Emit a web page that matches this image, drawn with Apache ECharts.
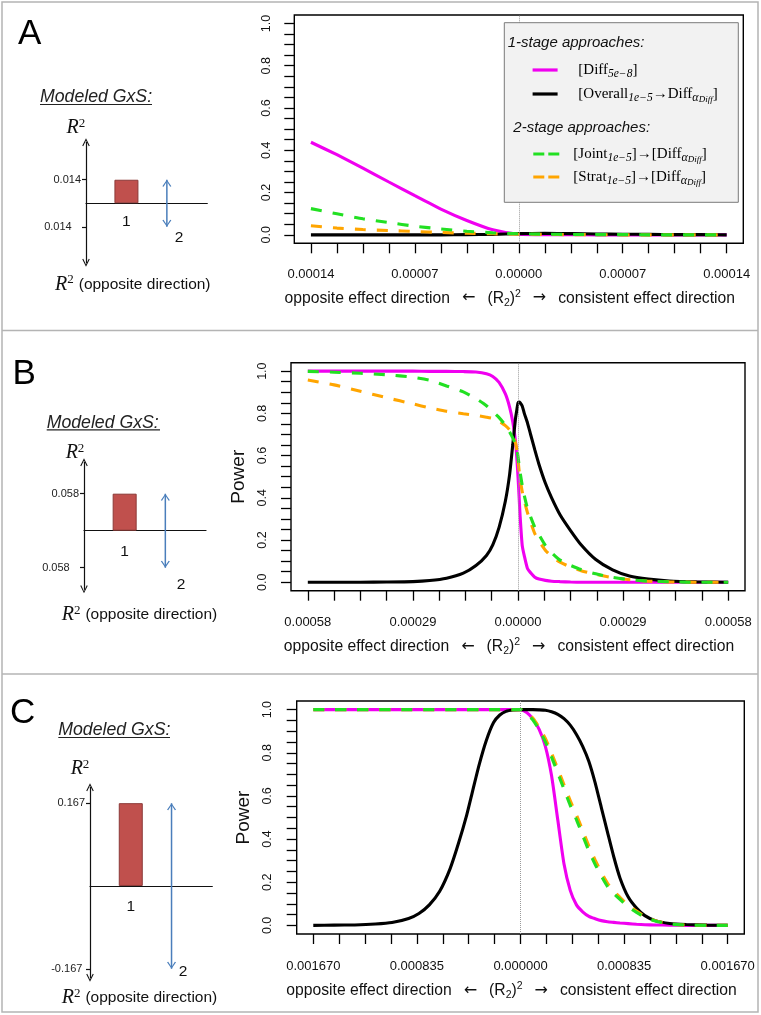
<!DOCTYPE html>
<html><head><meta charset="utf-8">
<script src="https://cdn.jsdelivr.net/npm/echarts@6/dist/echarts.min.js"></script>
<style>html,body{margin:0;padding:0;background:#fff}#c{width:761px;height:1015px}</style>
</head><body><div id="c"></div>
<script>
// ---------------- data ----------------
const xMax = [0.00014, 0.00058, 0.00167];          // max |(R2)^2| shown on each panel
const xDecimals = [5, 5, 6];
const xTickFrac = [-1,-0.875,-0.75,-0.625,-0.5,-0.375,-0.25,-0.125,0,0.125,0.25,0.375,0.5,0.625,0.75,0.875,1];
const xLabelFrac = [-1,-0.5,0,0.5,1];
const yTickVals = [0,0.05,0.1,0.15,0.2,0.25,0.3,0.35,0.4,0.45,0.5,0.55,0.6,0.65,0.7,0.75,0.8,0.85,0.9,0.95,1];
const yLabelVals = [0,0.2,0.4,0.6,0.8,1];

// Panel A (x as fraction of xMax[0])
const fracA   = [-1,-0.875,-0.75,-0.625,-0.5,-0.375,-0.25,-0.125,0,0.125,0.25,0.375,0.5,0.625,0.75,0.875,1];
const aDiff    = [0.438,0.379,0.316,0.25,0.185,0.122,0.068,0.024,0.003,0.001,0.001,0,0,0,0,0,0];
const aOverall = [0,0,0,0,0,0,0.001,0.002,0.006,0.007,0.006,0.004,0.003,0.002,0.001,0.001,0];
const aJoint   = [0.124,0.0995,0.076,0.058,0.041,0.028,0.017,0.0095,0.005,0.003,0.002,0.001,0.001,0,0,0,0];
const aStrat   = [0.043,0.032,0.025,0.0205,0.016,0.011,0.008,0.005,0.003,0.002,0.001,0.001,0,0,0,0,0];

// Panel B
const fracB   = [-1,-0.875,-0.75,-0.625,-0.5,-0.42,-0.34,-0.26,-0.2,-0.15,-0.12,-0.09,-0.06,-0.04,-0.025,-0.012,-0.005,0,0.005,0.01,0.02,0.03,0.045,0.06,0.08,0.1,0.13,0.16,0.2,0.25,0.3,0.37,0.45,0.53,0.62,0.72,0.85,1];
const bDiff    = [1,1,1,1,1,0.999,0.999,0.998,0.996,0.988,0.975,0.947,0.892,0.83,0.76,0.67,0.58,0.5,0.41,0.315,0.175,0.125,0.065,0.045,0.024,0.015,0.009,0.005,0.003,0.001,0,0,0,0,0,0,0,0];
const bOverall = [0,0,0,0.001,0.003,0.008,0.019,0.043,0.079,0.127,0.177,0.26,0.385,0.51,0.65,0.775,0.82,0.85,0.854,0.851,0.835,0.80,0.755,0.70,0.627,0.558,0.47,0.40,0.32,0.245,0.178,0.108,0.059,0.03,0.015,0.006,0.002,0];
const bJoint   = [0.999,0.995,0.99,0.983,0.971,0.957,0.93,0.902,0.87,0.836,0.808,0.78,0.744,0.712,0.684,0.655,0.625,0.596,0.556,0.52,0.46,0.41,0.35,0.31,0.26,0.225,0.175,0.14,0.105,0.08,0.06,0.04,0.023,0.012,0.005,0.002,0,0];
const bStrat   = [0.958,0.935,0.905,0.874,0.845,0.826,0.81,0.798,0.79,0.782,0.776,0.763,0.742,0.722,0.70,0.66,0.625,0.58,0.532,0.49,0.43,0.385,0.33,0.285,0.23,0.196,0.152,0.122,0.095,0.072,0.055,0.037,0.022,0.012,0.005,0.002,0,0];

// Panel C
const fracC   = [-1,-0.9,-0.8,-0.7,-0.62,-0.54,-0.49,-0.44,-0.39,-0.34,-0.3,-0.26,-0.23,-0.2,-0.165,-0.13,-0.1,-0.07,-0.035,0,0.03,0.06,0.09,0.12,0.15,0.18,0.21,0.24,0.27,0.3,0.33,0.36,0.39,0.42,0.45,0.48,0.52,0.56,0.6,0.65,0.72,0.8,0.9,1];
const cDiff    = [1,1,1,1,1,1,1,1,1,1,1,1,1,1,1,1,1,1,1,1,0.987,0.957,0.908,0.83,0.693,0.488,0.284,0.162,0.095,0.063,0.042,0.031,0.022,0.017,0.014,0.011,0.008,0.005,0.003,0.002,0.001,0,0,0];
const cOverall = [0,0.001,0.002,0.006,0.013,0.032,0.055,0.095,0.158,0.262,0.378,0.51,0.627,0.743,0.857,0.94,0.975,0.992,0.998,1,1,1,0.999,0.997,0.99,0.978,0.958,0.928,0.885,0.83,0.76,0.662,0.546,0.431,0.318,0.22,0.131,0.08,0.045,0.022,0.009,0.004,0.001,0];
const cJoint   = [1,1,1,1,1,1,1,1,1,1,1,1,1,1,1,1,1,1,1,1,0.98,0.952,0.906,0.851,0.78,0.706,0.631,0.556,0.49,0.417,0.345,0.283,0.229,0.18,0.147,0.121,0.086,0.06,0.037,0.02,0.006,0.001,0,0];
const cStrat   = [1,1,1,1,1,1,1,1,1,1,1,1,1,1,1,1,1,1,1,1,0.985,0.96,0.918,0.866,0.798,0.726,0.652,0.578,0.512,0.44,0.367,0.303,0.245,0.195,0.158,0.13,0.094,0.066,0.041,0.022,0.007,0.001,0,0];

// Schematic (Modeled GxS) values
const schemCats = ['', '1', '2', ''];
const schemR2 = [0.014, 0.058, 0.167];
const schemSignedLow = [false, false, true];

// legend texts
const legendText = {
  Diff:    '{f|[Diff}{s|5e−8}{m|]}',
  Overall: '{f|[Overall}{s|1e−5}{m|→Diff}{sa|α}{ss|Diff}{m|]}',
  Joint:   '{f|[Joint}{s|1e−5}{m|]→[Diff}{sa|α}{ss|Diff}{m|]}',
  Strat:   '{f|[Strat}{s|1e−5}{m|]→[Diff}{sa|α}{ss|Diff}{m|]}'
};

// ---------------- layout / styles ----------------
const colors = {Diff:'#f000f0', Overall:'#000000', Joint:'#22e022', Strat:'#ffa500'};
const dashed = {Diff:false, Overall:false, Joint:true, Strat:true};
const drawOrder = ['Diff','Overall','Strat','Joint'];
const panels = [
  {frac: fracA, Diff: aDiff, Overall: aOverall, Joint: aJoint, Strat: aStrat},
  {frac: fracB, Diff: bDiff, Overall: bOverall, Joint: bJoint, Strat: bStrat},
  {frac: fracC, Diff: cDiff, Overall: cOverall, Joint: cJoint, Strat: cStrat}
];
const mainGrids = [
  {left:294.3, top:15, width:449, height:228.3},
  {left:291, top:362.7, width:454, height:228},
  {left:296.7, top:701, width:447.6, height:233}
];
const xLabelMargin = [25, 25.5, 26];
const xNameGap = [45, 46, 46.8];
const yLabelMargin = [21.5, 21.5, 22.3];
const yName = ['', 'Power', 'Power'];
const yNameGap = [40, 33.5, 40];

const schemGrids = [
  {left:86, top:142.3, width:121.3, height:120.4, min:-0.0354, max:0.0363, d1:10.4, off2:[12.3,14], padLo:9.3},
  {left:84, top:462.3, width:122, height:127, min:-0.0919, max:0.1072, d1:13, off2:[15.7,20.8], padLo:9.3},
  {left:90, top:787.3, width:122.3, height:190.4, min:-0.185, max:0.199, d1:12.7, off2:[11.6,6.4], padLo:2.6}
];
const chev = 'path://M0,10L5,0L10,10L8.7,10.7L5,2.8L1.3,10.7Z';

const F = 'Liberation Sans';
const nameRich = {
  t:{fontSize:15.7, fontFamily:F, color:'#111', lineHeight:20},
  a:{fontSize:16, fontFamily:'DejaVu Sans', color:'#111', lineHeight:20, padding:[0,12,0,12]},
  sub:{fontSize:10.5, fontFamily:F, color:'#111', lineHeight:9, verticalAlign:'bottom'},
  sup:{fontSize:10.5, fontFamily:F, color:'#111', lineHeight:9, verticalAlign:'top'}
};
const axisNameText = '{t|opposite effect direction}{a|←}{t|(R}{sub|2}{t|)}{sup|2}{a|→}{t|consistent effect direction}';

function legRich(padL) {
  return {
    f:{fontFamily:'Liberation Serif', fontSize:15, lineHeight:20, padding:[0,0,0,padL], color:'#000'},
    m:{fontFamily:'Liberation Serif', fontSize:15, lineHeight:20, color:'#000'},
    s:{fontFamily:'Liberation Serif', fontStyle:'italic', fontSize:11.5, lineHeight:11, verticalAlign:'bottom', color:'#000'},
    sa:{fontFamily:'Liberation Serif', fontStyle:'italic', fontSize:12, lineHeight:11, verticalAlign:'bottom', color:'#000'},
    ss:{fontFamily:'Liberation Serif', fontStyle:'italic', fontSize:9, lineHeight:6, verticalAlign:'bottom', color:'#000'}
  };
}

const grid = [], xAxis = [], yAxis = [], series = [];

mainGrids.forEach((g, i) => {
  const X = xMax[i];
  grid.push(Object.assign({show:true, borderColor:'#000', borderWidth:1.4, backgroundColor:'transparent', containLabel:false, outerBoundsMode:'none'}, g));
  xAxis.push({
    type:'value', gridIndex:i, min:-1.08*X, max:1.08*X,
    axisLine:{show:false, onZero:false}, splitLine:{show:false},
    axisTick:{show:true, length:10, lineStyle:{color:'#000', width:1.3}, customValues: xTickFrac.map(f => f*X)},
    axisLabel:{customValues: xLabelFrac.map(f => f*X), formatter: v => Math.abs(v).toFixed(xDecimals[i]),
               margin:xLabelMargin[i], fontSize:13, fontFamily:F, color:'#111'},
    name: axisNameText, nameLocation:'middle', nameGap:xNameGap[i],
    nameTextStyle:{rich:nameRich, padding:[0,18,0,0]}
  });
  yAxis.push({
    type:'value', gridIndex:i, min:-0.04, max:1.04,
    axisLine:{show:false, onZero:false}, splitLine:{show:false},
    axisTick:{show:true, length:10, lineStyle:{color:'#000', width:1.3}, customValues: yTickVals},
    axisLabel:{customValues: yLabelVals, rotate:90, formatter: v => v.toFixed(1), margin:yLabelMargin[i],
               fontSize:12.5, fontFamily:F, color:'#111'},
    name: yName[i], nameLocation:'middle', nameGap:yNameGap[i],
    nameTextStyle:{fontSize:19, fontFamily:F, color:'#111'}
  });
  const p = panels[i];
  drawOrder.forEach((nm, k) => {
    const s = {
      type:'line', name:nm, xAxisIndex:i, yAxisIndex:i,
      data: p.frac.map((f, j) => [f*X, p[nm][j]]),
      symbol:'none', smooth:0.2, z:2,
      lineStyle:{color:colors[nm], width:3.1, type: dashed[nm] ? [11,11] : 'solid'},
      itemStyle:{color:colors[nm]}
    };
    if (k === 0) {
      s.markLine = {silent:true, symbol:['none','none'], label:{show:false}, animation:false,
        lineStyle:{type:'dotted', color:'#9a9a9a', width:1}, data:[{xAxis:0}]};
    }
    series.push(s);
  });
});

schemGrids.forEach((g, k) => {
  const gi = 3 + k, v = schemR2[k];
  grid.push({left:g.left, top:g.top, width:g.width, height:g.height, containLabel:false, outerBoundsMode:'none'});
  xAxis.push({
    type:'category', gridIndex:gi, data:schemCats, boundaryGap:false,
    axisLine:{onZero:true, lineStyle:{color:'#111', width:1.2}},
    axisTick:{show:false}, splitLine:{show:false}, axisLabel:{show:false}
  });
  yAxis.push({
    type:'value', gridIndex:gi, min:g.min, max:g.max, splitLine:{show:false},
    axisLine:{show:true, onZero:false, symbol:[chev, chev], symbolSize:[9,8], lineStyle:{color:'#111', width:1.2}},
    axisTick:{show:true, length:4, customValues:[-v, v], lineStyle:{color:'#111', width:1.2}},
    axisLabel:{customValues:[-v, v], margin:5,
      formatter: val => {
        const t = (val < 0 && schemSignedLow[k]) ? val.toFixed(3) : Math.abs(val).toFixed(3);
        return val > 0 ? '{hi|' + t + '}' : '{lo|' + t + '}';
      },
      rich:{hi:{fontSize:11, fontFamily:F, color:'#222'},
            lo:{fontSize:11, fontFamily:F, color:'#222', padding:[0,g.padLo,0,0]}}}
  });
  series.push({
    type:'bar', xAxisIndex:gi, yAxisIndex:gi, barWidth:24,
    data: schemCats.map(c => c === '1' ? v : '-'),
    itemStyle:{color:'#c0504d', borderColor:'#8c3a38', borderWidth:1},
    label:{show:true, position:'bottom', distance:g.d1, formatter:'1', fontSize:15.5, fontFamily:F, color:'#111'}
  });
  series.push({
    type:'line', xAxisIndex:gi, yAxisIndex:gi, symbol:chev, symbolSize:[9,7],
    lineStyle:{color:'#4a7ebb', width:1.5}, itemStyle:{color:'#4a7ebb'},
    data:[{value:[schemCats[2], v], symbolRotate:0, symbolOffset:[0,3.5]},
          {value:[schemCats[2], -v], symbolRotate:180, symbolOffset:[0,-3.5],
           label:{show:true, position:'inside', offset:g.off2, formatter:schemCats[2], fontSize:15.5, fontFamily:F, color:'#111'}}]
  });
});

function txt(x, y, text, st) {
  return {type:'text', x:x, y:y, silent:true, z:30,
    style:Object.assign({text:text, fill:'#000', fontFamily:F, textAlign:'left', align:'left',
      textVerticalAlign:'middle', verticalAlign:'middle'}, st)};
}
const r2Rich = {
  r:{fontFamily:'Liberation Serif', fontStyle:'italic', fontSize:20, lineHeight:22, fill:'#111', color:'#111'},
  p:{fontFamily:'Liberation Serif', fontSize:13, lineHeight:12, verticalAlign:'top', fill:'#111', color:'#111'},
  t:{fontFamily:F, fontSize:15.5, lineHeight:22, padding:[0,0,0,5], fill:'#111', color:'#111'}
};
const graphic = [
  {type:'rect', silent:true, z:0, shape:{x:2, y:2, width:756, height:1010}, style:{fill:'none', stroke:'#b4b4b4', lineWidth:1.5}},
  {type:'line', silent:true, z:0, shape:{x1:2, y1:330.5, x2:758, y2:330.5}, style:{stroke:'#b4b4b4', lineWidth:1.5}},
  {type:'line', silent:true, z:0, shape:{x1:2, y1:674, x2:758, y2:674}, style:{stroke:'#b4b4b4', lineWidth:1.5}},
  txt(18, 34.2, 'A', {fontSize:35}),
  txt(12.5, 374.2, 'B', {fontSize:35}),
  txt(10, 713.3, 'C', {fontSize:35}),
  txt(40, 96.7, 'Modeled GxS:', {fontSize:17.7, fontStyle:'italic', fill:'#222'}),
  txt(46.7, 423.3, 'Modeled GxS:', {fontSize:17.7, fontStyle:'italic', fill:'#222'}),
  txt(58.3, 730, 'Modeled GxS:', {fontSize:17.7, fontStyle:'italic', fill:'#222'}),
  {type:'line', silent:true, shape:{x1:40, y1:104.5, x2:152, y2:104.5}, style:{stroke:'#222', lineWidth:1.2}},
  {type:'line', silent:true, shape:{x1:46.7, y1:429.8, x2:160, y2:429.8}, style:{stroke:'#222', lineWidth:1.2}},
  {type:'line', silent:true, shape:{x1:58.3, y1:737.5, x2:170, y2:737.5}, style:{stroke:'#222', lineWidth:1.2}},
  txt(75.8, 128, '{r|R}{p|2}', {rich:r2Rich, textAlign:'center', align:'center'}),
  txt(75, 453, '{r|R}{p|2}', {rich:r2Rich, textAlign:'center', align:'center'}),
  txt(80, 769, '{r|R}{p|2}', {rich:r2Rich, textAlign:'center', align:'center'}),
  txt(55, 284.5, '{r|R}{p|2}{t|(opposite direction)}', {rich:r2Rich}),
  txt(61.7, 615, '{r|R}{p|2}{t|(opposite direction)}', {rich:r2Rich}),
  txt(61.7, 998, '{r|R}{p|2}{t|(opposite direction)}', {rich:r2Rich}),
  {type:'rect', silent:true, z:10, shape:{x:504.3, y:22.7, width:234, height:179.6}, style:{fill:'#f2f2f2', stroke:'#7a7a7a', lineWidth:1}},
  txt(507.7, 43.3, '1-stage approaches:', {fontSize:15, fontStyle:'italic', fill:'#111'}),
  txt(513.3, 127.7, '2-stage approaches:', {fontSize:15, fontStyle:'italic', fill:'#111'})
];

const legendHidden = {color:'transparent', borderColor:'transparent', borderWidth:0, opacity:0};
const legend = [
  {data:['Diff','Overall'], left:531, top:62, padding:0, orient:'vertical', itemWidth:25, itemHeight:20, itemGap:6,
   selectedMode:false, z:20, formatter: n => legendText[n], textStyle:{rich:legRich(15.7)},
   itemStyle:legendHidden, lineStyle:{width:3.2}},
  {data:['Joint','Strat'], left:531.7, top:146, padding:0, orient:'vertical', itemWidth:26, itemHeight:20, itemGap:5,
   selectedMode:false, z:20, formatter: n => legendText[n], textStyle:{rich:legRich(9)},
   itemStyle:legendHidden, lineStyle:{width:3.2, type:[11,4]}}
];

const chart = echarts.init(document.getElementById('c'), null, {renderer:'canvas'});
chart.setOption({
  animation:false, backgroundColor:'#fff',
  textStyle:{fontFamily:F},
  grid, xAxis, yAxis, series, legend, graphic
});
</script></body></html>
